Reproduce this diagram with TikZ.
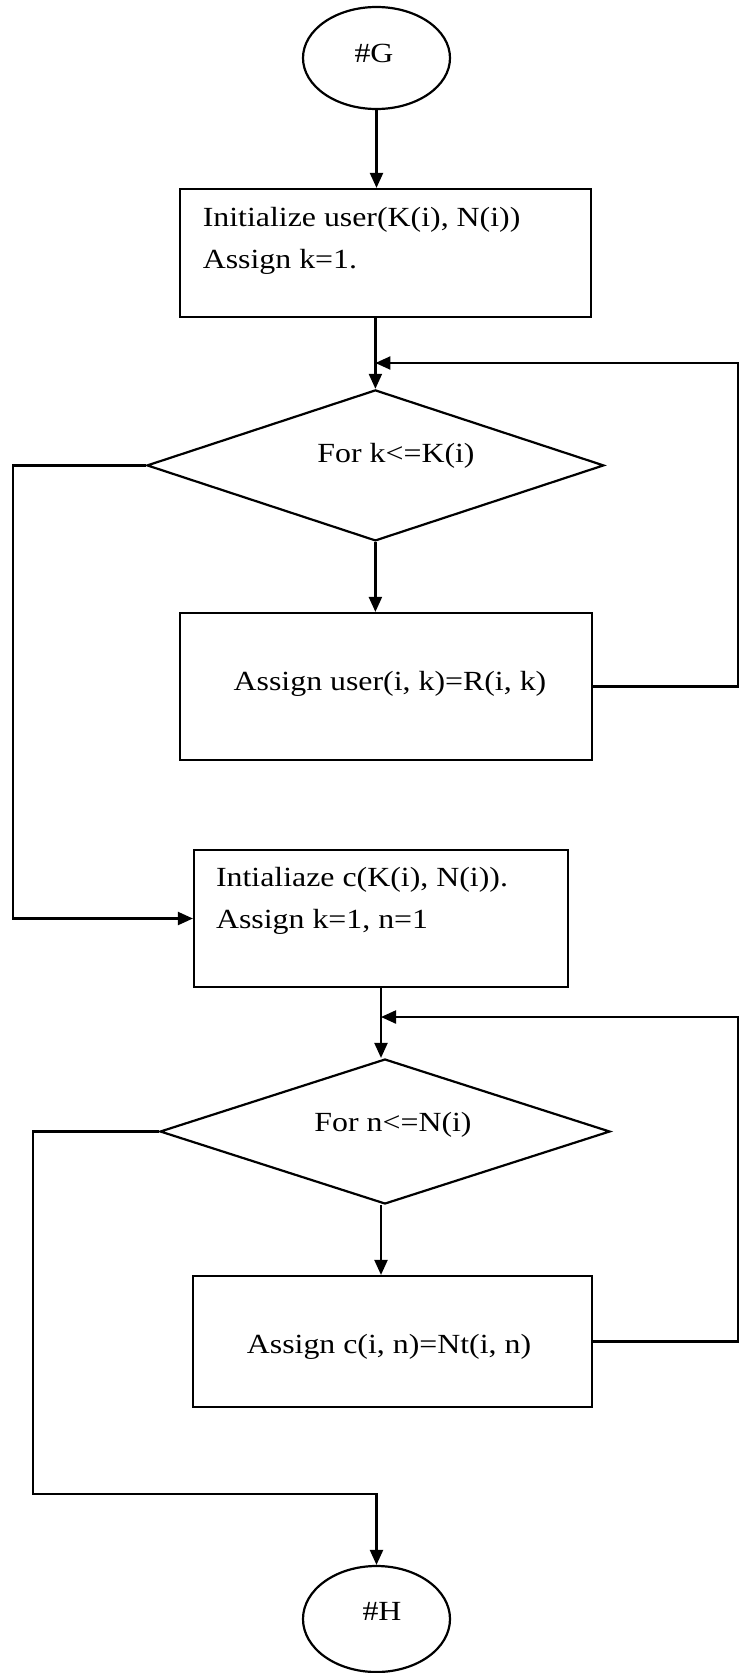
\documentclass[tikz,border=0pt]{standalone}
\usepackage{fontspec}
\setmainfont{Liberation Serif}[FakeStretch=1.15]
\usetikzlibrary{shapes.geometric,arrows.meta}
\begin{document}
\begin{tikzpicture}[x=1pt,y=-1pt,
  line width=2.2pt,
  arr/.style={-{Triangle[length=15pt,width=13pt]}},
  boxnode/.style={draw, rectangle, inner sep=0pt, line width=2.2pt},
  ovalnode/.style={draw, ellipse, inner sep=0pt, line width=2.2pt},
  decnode/.style={draw, diamond, inner sep=0pt, line width=2.2pt},
  txt/.style={inner sep=0pt, font=\fontsize{27.7}{33}\selectfont},
]
\useasboundingbox (0,0) rectangle (740,1673);

% shapes
\node[ovalnode, minimum width=147pt, minimum height=102pt] (G) at (376.5,58) {};
\node[boxnode, minimum width=411pt, minimum height=128pt] (b1) at (385.5,253) {};
\node[decnode, minimum width=457pt, minimum height=151pt] (d1) at (375.4,465.4) {};
\node[boxnode, minimum width=412pt, minimum height=147pt] (b2) at (386,686.5) {};
\node[boxnode, minimum width=374pt, minimum height=137pt] (b3) at (381,918.5) {};
\node[decnode, minimum width=450pt, minimum height=145pt] (d2) at (385,1131.5) {};
\node[boxnode, minimum width=399pt, minimum height=131pt] (b4) at (392.5,1341.5) {};
\node[ovalnode, minimum width=147pt, minimum height=106pt] (H) at (376.5,1619) {};

% texts
\node[txt, anchor=base] (tG) at (374,62) {\#G};
\node[txt, anchor=base west] (t1a) at (201.7,226.7) {Initialize user(K(i), N(i))};
\node[txt, anchor=base west] (t1b) at (201.7,268.4) {Assign k=1.};
\node[txt, anchor=base] (td1) at (396,462.7) {For k<=K(i)};
\node[txt, anchor=base] (t2) at (390,690) {Assign user(i, k)=R(i, k)};
\node[txt, anchor=base west] (t3a) at (215,886.7) {Intialiaze c(K(i), N(i)).};
\node[txt, anchor=base west] (t3b) at (215,928) {Assign k=1, n=1};
\node[txt, anchor=base] (td2) at (393,1131.7) {For n<=N(i)};
\node[txt, anchor=base] (t4) at (389,1353) {Assign c(i, n)=Nt(i, n)};
\node[txt, anchor=base] (tH) at (382,1620) {\#H};

% corner coordinates
\coordinate (j1) at (375.4,363);
\coordinate (r1) at (738,686.5);
\coordinate (l1) at (13,465.4);
\coordinate (j2) at (381,1017);
\coordinate (r2) at (738,1341.5);
\coordinate (l2) at (33,1494);

% connectors
\draw[arr] (G.south) -- (G.south |- b1.north);
\draw[arr] (d1.north |- b1.south) -- (d1.north);
\draw[arr] (b2.east) -- (r1) |- (j1);
\draw[arr] (d1.south) -- (d1.south |- b2.north);
\draw[arr] (d1.west) -- (l1) |- (b3.west);
\draw[arr] (b3.south) -- (b3.south |- d2.north);
\draw[arr] (b4.east) -- (r2) |- (j2);
\draw[arr] (j2 |- d2.south) -- (j2 |- b4.north);
\draw[arr] (d2.west) -| (l2) -| (H.north);
\end{tikzpicture}
\end{document}
